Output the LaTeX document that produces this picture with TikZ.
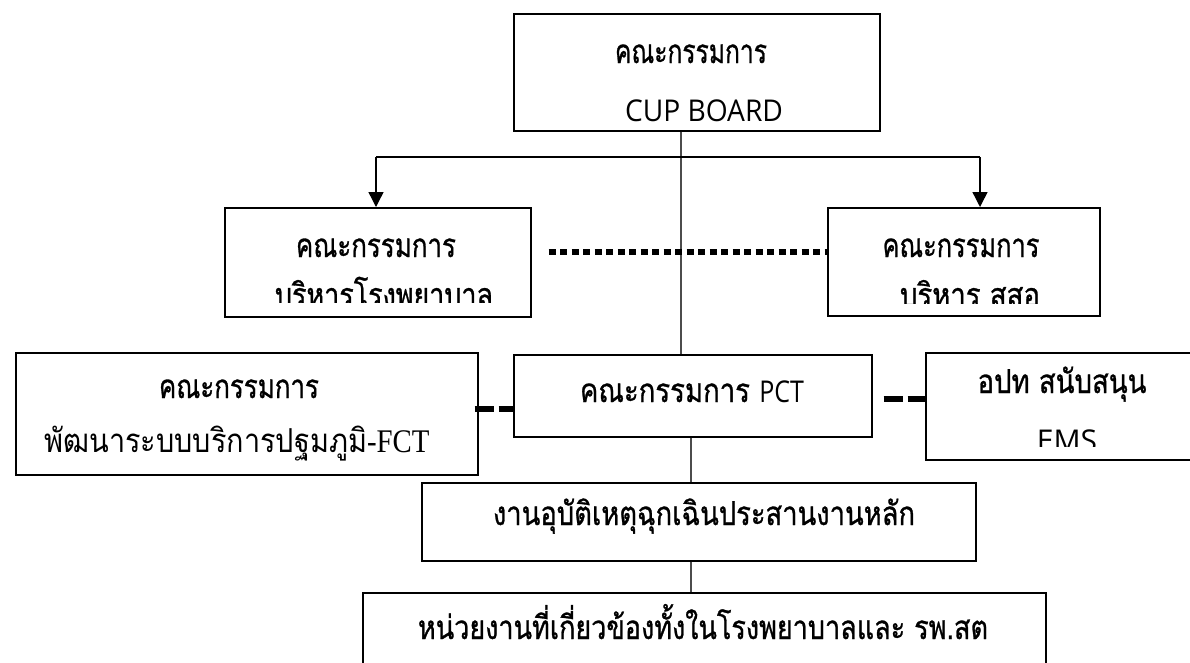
\documentclass[tikz,border=0pt]{standalone}
\usepackage{fontspec}
\usepackage{graphicx}
\newfontfamily\thai[Script=Thai,FakeBold=1]{Loma}
\newfontfamily\thaiplain[Script=Thai]{Loma}
\newfontfamily\lat{Open Sans}
\newfontfamily\lserif{Liberation Serif}
\usetikzlibrary{arrows.meta}
\newsavebox\fitbox
\newcommand\fitw[2]{\sbox\fitbox{#2}\pgfmathsetmacro\fitr{#1/\the\wd\fitbox}\scalebox{\fitr}[1]{\usebox\fitbox}}
\begin{document}
\begin{tikzpicture}[x=1pt,y=-1pt,
  box/.style={draw=black,line width=1.6pt,rectangle,inner sep=0pt,anchor=north west},
  txt/.style={anchor=base,inner sep=0pt,font=\thai\fontsize{33}{38}\selectfont},
  latxt/.style={anchor=base,inner sep=0pt,font=\lat\fontsize{30}{36}\selectfont},
  conn/.style={draw=black!70,line width=1.2pt},
  hline/.style={draw=black,line width=2pt},
  arrowline/.style={draw=black,line width=1.4pt,-{Triangle[width=15pt,length=15pt]}},
  dotline/.style={draw=black,line width=5.5pt,dash pattern=on 7pt off 4.5pt},
  dashline/.style={draw=black,line width=6pt,dash pattern=on 19pt off 5pt}
]
\useasboundingbox (0,0) rectangle (1190,662);
\fill[white] (0,0) rectangle (1190,662);
\clip (0,0) rectangle (1190,662);

% boxes
\node[box,minimum width=366pt,minimum height=117pt] (top) at (513,13) {};
\node[box,minimum width=306pt,minimum height=109pt] (ladm) at (224,207) {};
\node[box,minimum width=272pt,minimum height=108pt] (radm) at (827,207) {};
\node[box,minimum width=462pt,minimum height=122pt] (fct) at (15,352) {};
\node[box,minimum width=358pt,minimum height=82pt] (pct) at (513,354) {};
\node[box,minimum width=285pt,minimum height=107pt] (ems) at (925,352) {};
\node[box,minimum width=554pt,minimum height=78pt] (emer) at (421,482) {};
\node[box,minimum width=683pt,minimum height=100pt] (bot) at (362,592) {};

% texts
\node[txt] (ttop1) at (691,63) {\fitw{152}{คณะกรรมการ}};
\node[latxt] (ttop2) at (704,121) {\fitw{158}{CUP BOARD}};
\node[txt] (tladm1) at (376,257) {\fitw{160}{คณะกรรมการ}};
\begin{scope}
  \clip (224,207) rectangle (530,302);
  \node[txt] (tladm2) at (384,306.5) {\fitw{218}{บริหารโรงพยาบาล}};
\end{scope}
\node[txt] (tradm1) at (961,257) {\fitw{157}{คณะกรรมการ}};
\begin{scope}
  \clip (827,207) rectangle (1099,303);
  \node[txt] (tradm2) at (970,306.5) {\fitw{140}{บริหาร สสอ}};
\end{scope}
\node[txt] (tfct1) at (239,398) {\fitw{160}{คณะกรรมการ}};
\node[txt] (tfct2) at (237,452) {\fitw{385}{\thaiplain พัฒนาระบบบริการปฐมภูมิ{\lserif -FCT}}};
\node[txt] (tpct) at (692,402) {\fitw{224}{คณะกรรมการ {\lat\fontsize{30}{36}\selectfont PCT}}};
\node[txt] (tems1) at (1062,393) {\fitw{169}{อปท สนับสนุน}};
\begin{scope}
  \clip (925,352) rectangle (1190,446);
  \node[latxt] (tems2) at (1067,451) {EMS};
\end{scope}
\node[txt] (temer) at (704,525) {\fitw{422}{งานอุบัติเหตุฉุกเฉินประสานงานหลัก}};
\node[txt] (tbot) at (703,639) {\fitw{570}{หน่วยงานที่เกี่ยวข้องทั้งในโรงพยาบาลและ รพ.สต}};

% connectors
\coordinate (vx) at (681,0);
\coordinate (vx2) at (691,0);
\coordinate (hl) at (376,157);
\coordinate (hr) at (980,157);
\draw[conn] (top.south -| vx) -- (pct.north -| vx);
\draw[hline] (hl) -- (hr);
\draw[arrowline] (hl) -- (hl |- ladm.north);
\draw[arrowline] (hr) -- (hr |- radm.north);
\draw[conn] (pct.south -| vx2) -- (emer.north -| vx2);
\draw[conn] (emer.south -| vx2) -- (bot.north -| vx2);
\draw[dotline] ([xshift=17pt,yshift=10.5pt]ladm.east) -- ([yshift=10pt]radm.west);
\draw[dashline] ([xshift=-4pt,yshift=5pt]fct.east) -- ([yshift=-13pt]pct.west);
\draw[dashline] ([xshift=11pt,yshift=-3pt]pct.east) -- ([yshift=7.5pt]ems.west);
\end{tikzpicture}
\end{document}
